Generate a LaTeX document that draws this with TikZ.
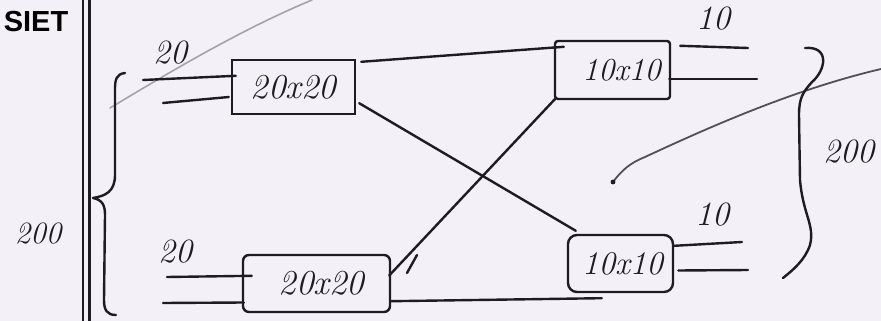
\documentclass[tikz,border=0pt]{standalone}
\usepackage{fontspec}
\newfontfamily\headfont{Liberation Sans}
\usetikzlibrary{calc}
\definecolor{paper}{RGB}{244,240,248}
\definecolor{ink}{RGB}{28,28,34}
\definecolor{pencil}{RGB}{165,162,170}
\definecolor{graphite}{RGB}{80,80,88}
\begin{document}
\begin{tikzpicture}[x=1pt,y=-1pt,
  wire/.style={draw=ink,line width=2.4pt,line cap=round,line join=round},
  faint/.style={draw=pencil,line width=1.6pt,line cap=round},
  switchbox/.style={draw=ink,line width=2.4pt,inner sep=0pt,
    font=\fontsize{35}{37}\selectfont\itshape,text=ink},
  hand/.style={font=\fontsize{34}{36}\selectfont\itshape,text=ink,inner sep=0pt}]
\fill[paper] (0,0) rectangle (881,321);
\useasboundingbox (0,0) rectangle (881,321);

% header and margin rule
\node[font=\headfont\bfseries\fontsize{29}{31}\selectfont,text=black,inner sep=0pt] (head) at (36,22) {SIET};
\draw[wire,line cap=butt] (83,0) -- (83,321);
\draw[wire,line cap=butt] (89.5,0) -- (89.5,321);

% pencil strokes crossing the sheet
\draw[faint] (110,108) .. controls (170,72) and (240,30) .. (312,0);
\draw[draw=graphite,line width=1.8pt,line cap=round] (613,182) .. controls (622,170) and (630,163) .. (645,157)
  .. controls (720,122) and (800,88) .. (881,69);
\fill[ink] (613,182) circle (2.4pt);

% switch boxes
\node[switchbox,minimum width=123pt,minimum height=54pt] (b1) at (293.5,87) {20x20};
\node[switchbox,minimum width=147pt,minimum height=57pt,rounded corners=6pt] (b2) at (316.5,283.5) {\hspace*{10pt}20x20};
\node[switchbox,minimum width=115pt,minimum height=58pt,rounded corners=3pt,
  font=\fontsize{32}{34}\selectfont\itshape] (b3) at (612.5,70) {\hspace*{18pt}10x10};
\node[switchbox,minimum width=105pt,minimum height=57pt,rounded corners=9pt,
  font=\fontsize{33}{35}\selectfont\itshape] (b4) at (620.5,263.5) {\hspace*{4pt}10x10};

% free ends of the input and output lines
\coordinate (i1) at (143,80);
\coordinate (i2) at (163,103);
\coordinate (i3) at (167,277);
\coordinate (i4) at (163,303);
\coordinate (o1) at (748,48);
\coordinate (o2) at (757,79);
\coordinate (o3) at (742,242);
\coordinate (o4) at (748,270);

% inputs
\draw[wire] (i1) -- ($(b1.north west)+(5,17)$);
\draw[wire] (i2) -- ($(b1.west)+(-2,10)$);
\draw[wire] (i3) -- ($(b2.north west)+(10,22)$);
\draw[wire] (i4) -- ($(b2.west)+(2,19)$);

% outputs
\draw[wire] ($(b3.north east)+(9,6)$) -- (o1);
\draw[wire] ($(b3.east)+(-2,9)$) -- (o2);
\draw[wire] ($(b4.north east)+(0,12)$) -- (o3);
\draw[wire] ($(b4.east)+(4,7)$) -- (o4);

% interconnections between the stages
\draw[wire] ($(b1.north east)+(5,3)$) -- ($(b3.north west)+(10,7)$);
\draw[wire] ($(b1.south east)+(3,-12)$) -- ($(b4.north west)+(9,-3)$);
\draw[wire] ($(b2.east)+(-2,-8)$) -- ($(b3.south west)+(2,-2)$);
\draw[wire] ($(b2.south east)+(0,-12)$) -- ($(b4.south west)+(35,5)$);
\draw[wire] (407,273) -- (417,255);

% braces
\draw[wire] (125,73) .. controls (116,74) and (115,80) .. (115,90) -- (115,175)
  .. controls (115,192) and (105,196) .. (93,198)
  .. controls (103,200) and (105,206) .. (105,215) -- (104,300)
  .. controls (104,310) and (107,315) .. (116,315);
\draw[wire] (805,48) .. controls (830,46) and (826,70) .. (812,82)
  .. controls (803,92) and (799,98) .. (799,115) -- (800,180)
  .. controls (803,215) and (815,225) .. (810,245)
  .. controls (805,260) and (793,270) .. (783,278);

% labels
\node[hand] (l1) at (170,53) {20};
\node[hand] (l2) at (175,252) {20};
\node[hand] (l3) at (713,19) {10};
\node[hand] (l4) at (712,215) {10};
\node[hand,font=\fontsize{31}{33}\selectfont\itshape] (l5) at (38,234) {200};
\node[hand,anchor=west] (l6) at (823,152) {200};
\end{tikzpicture}
\end{document}
